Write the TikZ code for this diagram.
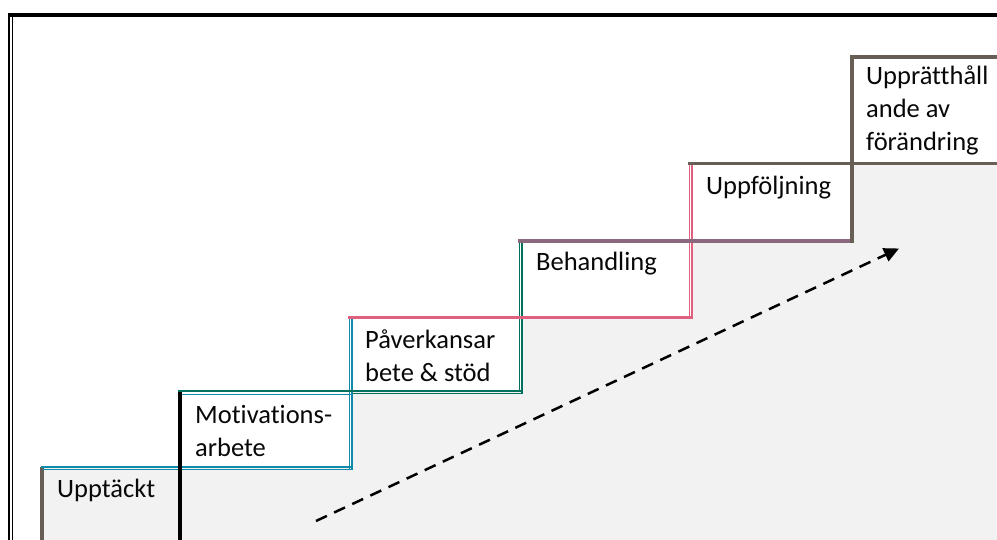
\documentclass[tikz,border=0pt]{standalone}
\usepackage{fontspec}
\setmainfont{Carlito}[RawFeature=-liga]
\usetikzlibrary{arrows.meta}
\definecolor{gbrown}{HTML}{675E56}
\definecolor{sblue}{HTML}{0E8AAB}
\definecolor{sgreen}{HTML}{00705F}
\definecolor{spink}{HTML}{E0607F}
\definecolor{smauve}{HTML}{8A687E}
\definecolor{sgray}{HTML}{F2F2F2}
\definecolor{stext}{HTML}{080808}
\begin{document}
\begin{tikzpicture}[x=1pt,y=-1pt,
  lbl/.style={anchor=base west,inner sep=0pt,text=stext,font=\fontsize{26.5}{33}\selectfont},
  thick3/.style={line width=3.5pt},
  thin1/.style={line width=1.4pt}]
\useasboundingbox (0,0) rectangle (997,540);
\clip (0,0) rectangle (997,540);
\fill[white] (0,0) rectangle (997,540);
% gray background below the stairs
\fill[sgray] (42,540) -- (42,467) -- (351,467) -- (351,392) -- (521,392) -- (521,318)
  -- (691,318) -- (691,241) -- (852,241) -- (852,163) -- (1000,163) -- (1000,540) -- cycle;
% outer frame
\draw[line width=3.4pt,black] (8,15) -- (1000,15);
\draw[line width=2pt,black] (9,13.4) -- (9,545);
\draw[line width=1.3pt,black] (12.2,16.6) -- (12.2,545);
% step 1
\draw[thick3,gbrown] (42.2,467) -- (42.2,545);
% blue double: top of step 1 / bottom of step 2
\draw[line width=1.8pt,sblue] (41,466.6) -- (351.5,466.6);
\draw[thin1,sblue] (43,469.4) -- (351.5,469.4);
% step 2 left black
\draw[thick3,black] (180,392) -- (180,545);
% blue double: right of step 2 / left of step 3
\draw[thin1,sblue] (349.3,317) -- (349.3,469.8);
\draw[thin1,sblue] (352,319) -- (352,469.8);
% green: top of step 2 / bottom of step 3
\draw[line width=1.8pt,sgreen] (178,390.8) -- (522,390.8);
\draw[thin1,sblue] (181.5,394.2) -- (351.5,394.2);
\draw[thin1,sgreen] (351.5,393.6) -- (522,393.6);
% green double: right of step 3 / left of step 4
\draw[thin1,sgreen] (519.2,240) -- (519.2,392);
\draw[thin1,sgreen] (521.8,242) -- (521.8,394);
% pink: top of step 3 / bottom of step 4
\draw[line width=3pt,spink] (348,317.3) -- (692,317.3);
% pink double: right of step 4 / left of step 5
\draw[thin1,spink] (689.3,163) -- (689.3,318);
\draw[thin1,spink] (691.8,165) -- (691.8,318.8);
% mauve: top of step 4 / bottom of step 5
\draw[thick3,smauve] (518,241) -- (853,241);
% step 5 top and right
\draw[thick3,gbrown] (688,163.5) -- (853.5,163.5);
\draw[thick3,gbrown] (851.8,242.7) -- (851.8,55.3);
% step 6
\draw[thick3,gbrown] (850,57) -- (1000,57);
\draw[thick3,gbrown] (850,163.5) -- (1000,163.5);
% labels
\node[lbl] (t1) at (57,497) {Upptäckt};
\node[lbl] (t2a) at (195,423.3) {Motivations-};
\node[lbl] (t2b) at (195,456.3) {arbete};
\node[lbl] (t3a) at (365,348.3) {Påverkansar};
\node[lbl] (t3b) at (365,381.3) {bete \& stöd};
\node[lbl] (t4) at (536,270.5) {Behandling};
\node[lbl] (t5) at (706,194.2) {Uppföljning};
\node[lbl] (t6a) at (866,84.3) {Upprätthåll};
\node[lbl] (t6b) at (866,117.5) {ande av};
\node[lbl] (t6c) at (866,150.8) {förändring};
% dashed arrow
\coordinate (as) at (316,521);
\coordinate (ae) at (899,248.5);
\draw[line width=2.5pt,black,dash pattern=on 12pt off 8pt,
  -{Triangle[length=15pt,width=14pt]}] (as) -- (ae);
\end{tikzpicture}
\end{document}
